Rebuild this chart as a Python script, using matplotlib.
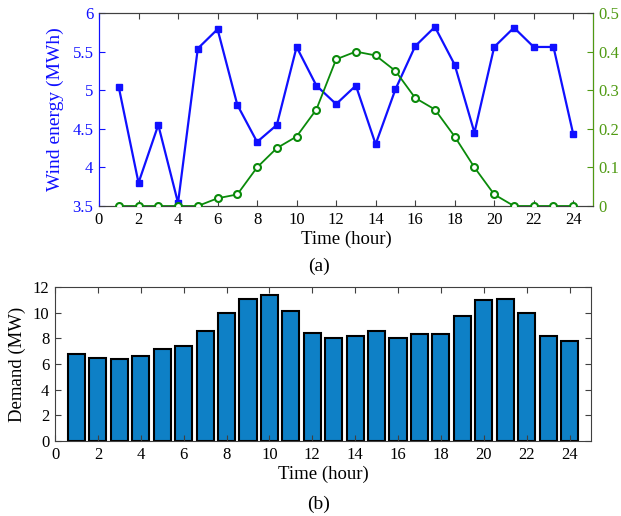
import matplotlib
matplotlib.use('Agg')
import matplotlib.pyplot as plt
import numpy as np

plt.rcParams['font.family'] = ['Liberation Serif', 'DejaVu Serif']

# Data
hours = np.arange(1, 25)
wind_energy = [5.04, 3.80, 4.55, 3.54, 5.54, 5.79, 4.81, 4.33, 4.55, 5.56, 5.06, 4.82,
               5.06, 4.30, 5.01, 5.57, 5.82, 5.33, 4.45, 5.56, 5.81, 5.56, 5.56, 4.43]
solar = [0, 0, 0, 0, 0, 0.02, 0.03, 0.10, 0.15, 0.18, 0.25, 0.38,
         0.40, 0.39, 0.35, 0.28, 0.25, 0.18, 0.10, 0.03, 0, 0, 0, 0]
demand = [6.8, 6.5, 6.4, 6.65, 7.2, 7.4, 8.6, 10.0, 11.1, 11.35, 10.1, 8.4,
          8.0, 8.2, 8.6, 8.05, 8.35, 8.35, 9.75, 10.95, 11.1, 10.0, 8.2, 7.8]

blue = '#1010ff'
green = '#0a8a0a'
right_green = '#4f9a12'
bar_color = '#0e80c6'
spine_gray = '#404040'

W, H = 621, 516
fig = plt.figure(figsize=(W / 100, H / 100), dpi=100)

# ---- (a) wind energy and solar ----
ax1 = fig.add_axes([99 / W, 1 - 206 / H, (593 - 99) / W, (206 - 13) / H])
ax1.plot(hours, wind_energy, color=blue, lw=1.6, marker='s', markersize=5,
         markerfacecolor=blue, markeredgecolor=blue, zorder=3)
ax1.set_xlim(0, 25)
ax1.set_ylim(3.5, 6)
ax1.set_xticks(np.arange(0, 25, 2))
ax1.set_yticks([3.5, 4, 4.5, 5, 5.5, 6])
ax1.set_yticklabels(['3.5', '4', '4.5', '5', '5.5', '6'])
ax1.set_xlabel('Time (hour)', fontsize=13.5, labelpad=2)
ax1.set_ylabel('Wind energy (MWh)', fontsize=14, color=blue, labelpad=6)
ax1.tick_params(axis='x', direction='in', top=True, length=4, labelsize=12, pad=4, color=spine_gray)
ax1.tick_params(axis='y', direction='in', right=True, length=4, labelsize=12, pad=4,
                colors=blue)
for s in ['top', 'bottom']:
    ax1.spines[s].set_color(spine_gray)
ax1.spines['left'].set_color(blue)

ax2 = ax1.twinx()
ax2.plot(hours, solar, color=green, lw=1.3, marker='o', markersize=5,
         markerfacecolor='white', markeredgecolor=green, markeredgewidth=1.5, zorder=3)
ax2.set_xlim(0, 25)
ax2.set_ylim(0, 0.5)
ax2.set_yticks([0, 0.1, 0.2, 0.3, 0.4, 0.5])
ax2.set_yticklabels(['0', '0.1', '0.2', '0.3', '0.4', '0.5'])
ax2.tick_params(axis='y', direction='in', length=4, labelsize=12, pad=4, colors=right_green)
ax2.spines['right'].set_color(right_green)
ax2.spines['left'].set_color(blue)
ax2.spines['top'].set_color(spine_gray)
ax2.spines['bottom'].set_color(spine_gray)

fig.text(319 / W, 1 - 266 / H, '(a)', ha='center', va='center', fontsize=14)

# ---- (b) demand ----
ax3 = fig.add_axes([55 / W, 1 - 441 / H, (591 - 55) / W, (441 - 287) / H])
ax3.bar(hours, demand, width=0.8, color=bar_color, edgecolor='black', linewidth=1.5)
ax3.set_xlim(0, 25)
ax3.set_ylim(0, 12)
ax3.set_xticks(np.arange(0, 25, 2))
ax3.set_yticks(np.arange(0, 13, 2))
ax3.set_xlabel('Time (hour)', fontsize=13.5, labelpad=2)
ax3.set_ylabel('Demand (MW)', fontsize=13.5, labelpad=5)
ax3.tick_params(direction='in', top=True, right=True, length=4, labelsize=12, pad=4,
                color=spine_gray)
for s in ax3.spines.values():
    s.set_color(spine_gray)

fig.text(319 / W, 1 - 504 / H, '(b)', ha='center', va='center', fontsize=14)

fig.savefig('out.png', dpi=100)
